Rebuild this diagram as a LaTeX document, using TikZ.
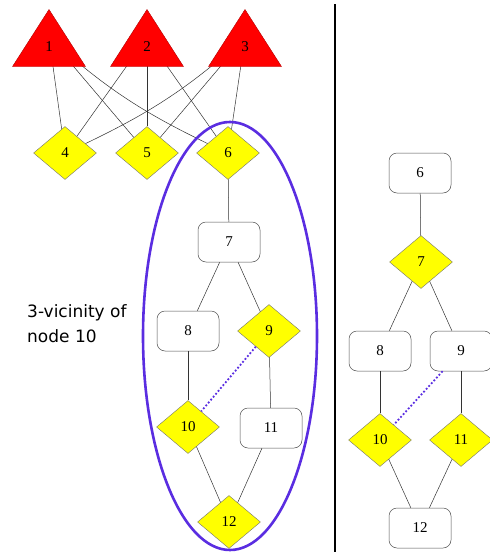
\documentclass[tikz,border=0pt]{standalone}
\usepackage{fontspec}
\setmainfont{Liberation Serif}
\newfontfamily\notefont{DejaVu Sans}
\usetikzlibrary{shapes.geometric}
\definecolor{vicblue}{RGB}{90,45,225}
\definecolor{diamyellow}{RGB}{255,255,0}
\definecolor{trired}{RGB}{255,0,0}

\begin{document}
\begin{tikzpicture}[x=1pt, y=-1pt,
    every node/.style={font=\fontsize{15}{15}\selectfont, inner sep=0pt},
    tri/.style={isosceles triangle, isosceles triangle stretches, shape border rotate=90,
                minimum width=73, minimum height=57, fill=trired, draw=red!70!black, line width=0.4},
    dia/.style={diamond, aspect=1.19, minimum width=63, minimum height=53,
                fill=diamyellow, draw=black!55, line width=0.4},
    box/.style={rectangle, rounded corners=8, minimum width=62, minimum height=40,
                draw=black!70, line width=0.5},
    edge/.style={black!80, line width=0.5},
    near/.style={vicblue, dotted, line width=1.8}]

  \useasboundingbox (0,0) rectangle (490,552);

	%draw left graph
    \foreach \x/\y/\num/\name in {65/153/4/d4, 147/153/5/d5, 228/153/6/d6, 269/331/9/d9, 188/427/10/d10, 229/522/12/d12}{
           \node[dia] (\name) at (\x, \y) {\num};
    }
    \foreach \x/\y/\num/\name in {229/242/7/b7, 188/331/8/b8, 271/428/11/b11}{
           \node[box] (\name) at (\x, \y) {\num};
    }

    % middle of each triangle
    \foreach \x/\name in {49/t1c, 147/t2c, 245/t3c}{
           \coordinate (\name) at (\x, 37.5);
    }

    \draw[edge] (t1c) -- (d4);
    \draw[edge] (t1c) -- (d5);
    \draw[edge] (t1c) to[bend right=8] (d6);
    \draw[edge] (t2c) -- (d4);
    \draw[edge] (t2c) -- (d5);
    \draw[edge] (t2c) -- (d6);
    \draw[edge] (t3c) to[bend left=8] (d4);
    \draw[edge] (t3c) -- (d5);
    \draw[edge] (t3c) -- (d6);

	%draw top triangles
    \foreach \x/\num/\name in {49/1/t1, 147/2/t2, 245/3/t3}{
           \node[tri, anchor=apex] (\name) at (\x, 9) {};
           \node (\name l) at (\x, 47) {\num};
    }

    \draw[edge] (d6) -- (b7);
    \draw[edge] (b7) -- (b8);
    \draw[edge] (b7) -- (d9);
    \draw[edge] (b8) -- (d10);
    \draw[edge] (d9) -- (b11);
    \draw[edge] (d10) -- (d12);
    \draw[edge] (b11) -- (d12);
    \draw[near] (d9) -- (d10);

    \draw[vicblue, line width=2.6] (230,336) ellipse [x radius=87, y radius=214];
    \node[anchor=north west, align=left, font=\notefont\fontsize{17}{25}\selectfont] (vic) at (27,304) {3-vicinity of\\node 10};

	%separator
    \draw[black, line width=2.4] (335,4) -- (335,552);

	%draw right graph
    \foreach \x/\y/\num/\name in {421/262/7/rd7, 380/440/10/rd10, 461/440/11/rd11}{
           \node[dia] (\name) at (\x, \y) {\num};
    }
    \foreach \x/\y/\num/\name in {420/173/6/rb6, 380/351/8/rb8, 461/351/9/rb9, 420/528/12/rb12}{
           \node[box] (\name) at (\x, \y) {\num};
    }

    \draw[edge] (rb6) -- (rd7);
    \draw[edge] (rd7) -- (rb8);
    \draw[edge] (rd7) -- (rb9);
    \draw[edge] (rb8) -- (rd10);
    \draw[edge] (rb9) -- (rd11);
    \draw[edge] (rd10) -- (rb12);
    \draw[edge] (rd11) -- (rb12);
    \draw[near] (rb9) -- (rd10);

\end{tikzpicture}
\end{document}
